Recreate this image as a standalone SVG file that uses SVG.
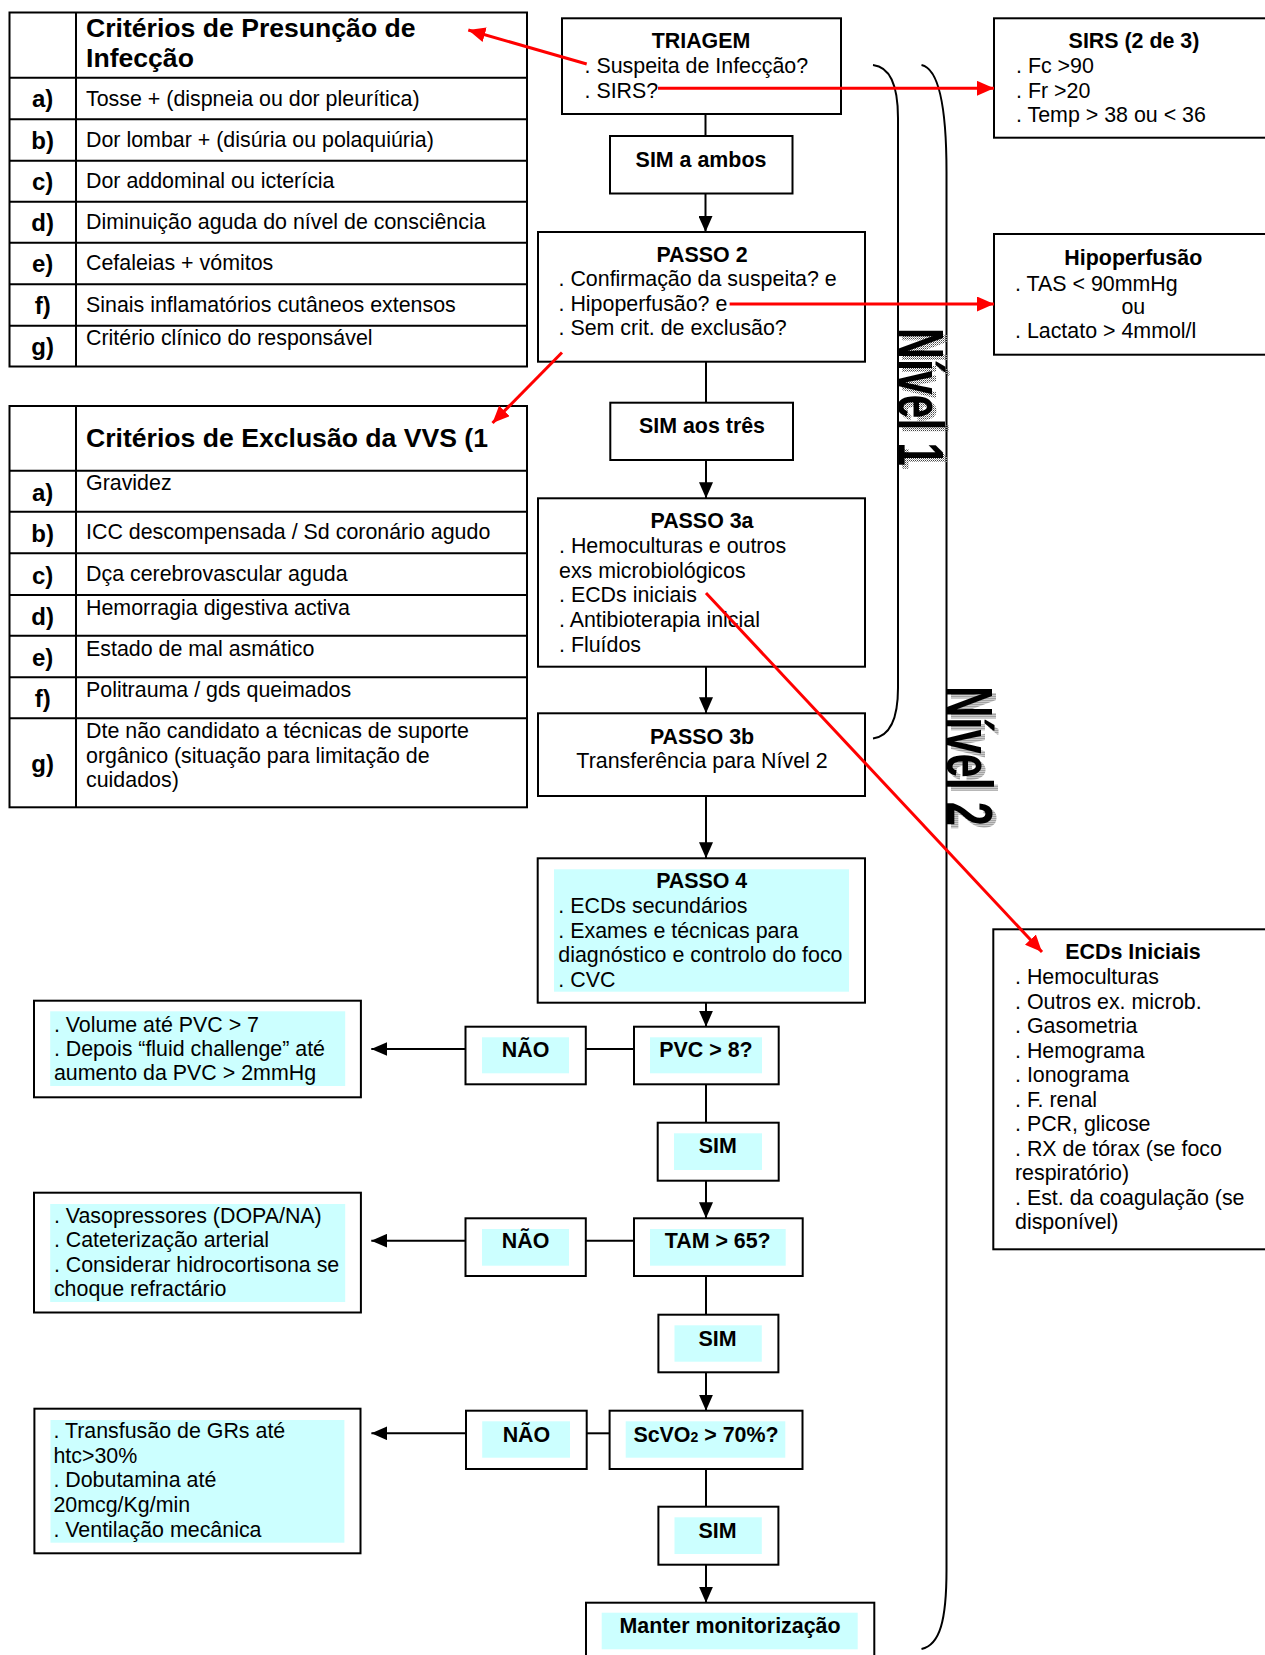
<svg xmlns="http://www.w3.org/2000/svg" width="1265" height="1655" viewBox="0 0 1265 1655">
<style>
  text { font-family: "Liberation Sans", Arial, sans-serif; font-size: 21.4px; fill: #000; }
  .b { font-weight: bold; }
  .c { text-anchor: middle; }
  .hd { font-size: 26.6px; font-weight: bold; }
  .lb { font-size: 24px; font-weight: bold; text-anchor: middle; }
  .box { fill: #fff; stroke: #000; stroke-width: 2; }
  .grid { fill: none; stroke: #000; stroke-width: 2; }
  .cy { fill: #CCFFFF; }
  .ln { fill: none; stroke: #000; stroke-width: 2; }
  .arr { fill: none; stroke: #000; stroke-width: 2; marker-end: url(#ah); }
  .red { fill: none; stroke: #FF0000; stroke-width: 3; marker-end: url(#rh); }
  .brace { fill: none; stroke: #000; stroke-width: 2; }
  .lvl { font-size: 64px; font-weight: bold; }
</style>
<defs>
  <marker id="ah" markerUnits="userSpaceOnUse" markerWidth="16" markerHeight="14" refX="16" refY="7" orient="auto">
    <path d="M0,0 L16,7 L0,14 z" fill="#000"/>
  </marker>
  <marker id="rh" markerUnits="userSpaceOnUse" markerWidth="17" markerHeight="15" refX="17" refY="7.5" orient="auto">
    <path d="M0,0 L17,7.5 L0,15 z" fill="#FF0000"/>
  </marker>
  <pattern id="halftone" width="2" height="2" patternUnits="userSpaceOnUse">
    <rect width="1" height="1" fill="#444"/>
    <rect x="1" y="1" width="1" height="1" fill="#999"/>
  </pattern>
</defs>
<rect width="1265" height="1655" fill="#fff"/>

<!-- Table: criteria for presumed infection -->
<g id="tabela-presuncao">
  <rect class="grid" x="9.5" y="12.5" width="517.5" height="354"/>
  <path class="grid" d="M76,12.5 V366.5 M9.5,77.7 H527 M9.5,119.3 H527 M9.5,160.7 H527 M9.5,201.7 H527 M9.5,242.7 H527 M9.5,284.3 H527 M9.5,325.7 H527"/>
  <text class="hd" x="86" y="36.7">Critérios de Presunção de</text>
  <text class="hd" x="86" y="66.7">Infecção</text>
  <text class="lb" x="42.7" y="107">a)</text>
  <text class="lb" x="42.7" y="148.5">b)</text>
  <text class="lb" x="42.7" y="189.5">c)</text>
  <text class="lb" x="42.7" y="230.5">d)</text>
  <text class="lb" x="42.7" y="272">e)</text>
  <text class="lb" x="42.7" y="313.5">f)</text>
  <text class="lb" x="42.7" y="355">g)</text>
  <text x="86" y="106">Tosse + (dispneia ou dor pleurítica)</text>
  <text x="86" y="146.7">Dor lombar + (disúria ou polaquiúria)</text>
  <text x="86" y="188.3">Dor addominal ou icterícia</text>
  <text x="86" y="229.3">Diminuição aguda do nível de consciência</text>
  <text x="86" y="270">Cefaleias + vómitos</text>
  <text x="86" y="311.7">Sinais inflamatórios cutâneos extensos</text>
  <text x="86" y="345">Critério clínico do responsável</text>
</g>

<!-- Table: exclusion criteria -->
<g id="tabela-exclusao">
  <rect class="grid" x="9.5" y="406" width="517.5" height="401.3"/>
  <path class="grid" d="M76,406 V807.3 M9.5,470.7 H527 M9.5,511.7 H527 M9.5,553.3 H527 M9.5,595 H527 M9.5,635.7 H527 M9.5,677.3 H527 M9.5,718.3 H527"/>
  <text class="hd" x="86" y="446.7">Critérios de Exclusão da VVS (1</text>
  <text class="lb" x="42.7" y="500.7">a)</text>
  <text class="lb" x="42.7" y="542">b)</text>
  <text class="lb" x="42.7" y="583.5">c)</text>
  <text class="lb" x="42.7" y="624.5">d)</text>
  <text class="lb" x="42.7" y="666">e)</text>
  <text class="lb" x="42.7" y="707.3">f)</text>
  <text class="lb" x="42.7" y="772.3">g)</text>
  <text x="86" y="490">Gravidez</text>
  <text x="86" y="539.3">ICC descompensada / Sd coronário agudo</text>
  <text x="86" y="580.7">Dça cerebrovascular aguda</text>
  <text x="86" y="615">Hemorragia digestiva activa</text>
  <text x="86" y="656">Estado de mal asmático</text>
  <text x="86" y="697.3">Politrauma / gds queimados</text>
  <text x="86" y="738.3">Dte não candidato a técnicas de suporte</text>
  <text x="86" y="762.7">orgânico (situação para limitação de</text>
  <text x="86" y="787.3">cuidados)</text>
</g>

<!-- Level braces and labels -->
<g id="niveis">
  <path class="brace" d="M873,65 C891,67 898,88 898,118 L898,688 C898,718 891,736 873,738.5"/>
  <path class="brace" d="M921.5,65 C940,69 946.5,110 946.5,172 L946.5,1570 C946.5,1620 940,1645 921.5,1649"/>
  <text class="lvl" transform="translate(902,332) rotate(90)" textLength="138" lengthAdjust="spacingAndGlyphs" style="fill:url(#halftone)">Nível 1</text>
  <text class="lvl" transform="translate(898,328) rotate(90)" textLength="138" lengthAdjust="spacingAndGlyphs">Nível 1</text>
  <text class="lvl" transform="translate(950.5,690) rotate(90)" textLength="140" lengthAdjust="spacingAndGlyphs" style="fill:url(#halftone)">Nível 2</text>
  <text class="lvl" transform="translate(946.5,686) rotate(90)" textLength="140" lengthAdjust="spacingAndGlyphs">Nível 2</text>
</g>

<!-- Flow nodes -->
<g id="triagem">
  <rect class="box" x="562" y="18.3" width="279" height="95.7"/>
  <text class="b c" x="701" y="48">TRIAGEM</text>
  <text x="584.5" y="73">. Suspeita de Infecção?</text>
  <text x="584.5" y="97.7">. SIRS?</text>
</g>
<g id="sim-ambos">
  <rect class="box" x="610" y="136" width="182.5" height="57.5"/>
  <text class="b c" x="701" y="166.7">SIM a ambos</text>
</g>
<g id="passo2">
  <rect class="box" x="538" y="232" width="327" height="129.7"/>
  <text class="b c" x="702" y="261.7">PASSO 2</text>
  <text x="558.5" y="286">. Confirmação da suspeita? e</text>
  <text x="558.5" y="310.7">. Hipoperfusão? e</text>
  <text x="558.5" y="335">. Sem crit. de exclusão?</text>
</g>
<g id="sim-tres">
  <rect class="box" x="610.3" y="402.7" width="182.7" height="57.3"/>
  <text class="b c" x="702" y="433.3">SIM aos três</text>
</g>
<g id="passo3a">
  <rect class="box" x="538" y="498.3" width="327" height="168.4"/>
  <text class="b c" x="702" y="528.3">PASSO 3a</text>
  <text x="559" y="553.3">. Hemoculturas e outros</text>
  <text x="559" y="577.5">exs microbiológicos</text>
  <text x="559" y="601.7">. ECDs iniciais</text>
  <text x="559" y="626.7">. Antibioterapia inicial</text>
  <text x="559" y="651.7">. Fluídos</text>
</g>
<g id="passo3b">
  <rect class="box" x="538" y="713.3" width="327" height="82.7"/>
  <text class="b c" x="702" y="744.3">PASSO 3b</text>
  <text class="c" x="702" y="768.3">Transferência para Nível 2</text>
</g>
<g id="passo4">
  <rect class="box" x="537.7" y="858.3" width="327.3" height="144.4"/>
  <rect class="cy" x="554" y="869.3" width="295" height="122.4"/>
  <text class="b c" x="701.7" y="887.7">PASSO 4</text>
  <text x="558.3" y="912.7">. ECDs secundários</text>
  <text x="558.3" y="937.7">. Exames e técnicas para</text>
  <text x="558.3" y="961.7">diagnóstico e controlo do foco</text>
  <text x="558.3" y="986.7">. CVC</text>
</g>
<g id="pvc">
  <rect class="box" x="634" y="1026.7" width="144.7" height="57.6"/>
  <rect class="cy" x="650" y="1037.3" width="112" height="36"/>
  <text class="b c" x="706" y="1056.7">PVC &gt; 8?</text>
</g>
<g id="nao-pvc">
  <rect class="box" x="465.5" y="1026.7" width="120.3" height="57.6"/>
  <rect class="cy" x="482" y="1037.3" width="87" height="36"/>
  <text class="b c" x="525.6" y="1056.7">NÃO</text>
</g>
<g id="volume">
  <rect class="box" x="34" y="1000.7" width="326.9" height="96.6"/>
  <rect class="cy" x="50.2" y="1011.3" width="295" height="74.7"/>
  <text x="53.9" y="1031.7">. Volume até PVC &gt; 7</text>
  <text x="53.9" y="1056">. Depois “fluid challenge” até</text>
  <text x="53.9" y="1080">aumento da PVC &gt; 2mmHg</text>
</g>
<g id="sim-pvc">
  <rect class="box" x="657.7" y="1122.7" width="121" height="58"/>
  <rect class="cy" x="674" y="1133.3" width="88" height="36.7"/>
  <text class="b c" x="717.7" y="1153.3">SIM</text>
</g>
<g id="tam">
  <rect class="box" x="634" y="1218.3" width="168.7" height="57.7"/>
  <rect class="cy" x="650" y="1229" width="135.7" height="36.7"/>
  <text class="b c" x="717.7" y="1248.3">TAM &gt; 65?</text>
</g>
<g id="nao-tam">
  <rect class="box" x="465.5" y="1218.3" width="120.3" height="57.7"/>
  <rect class="cy" x="482" y="1229" width="87" height="36.7"/>
  <text class="b c" x="525.6" y="1248.3">NÃO</text>
</g>
<g id="vasopressores">
  <rect class="box" x="34" y="1192.7" width="326.9" height="119.8"/>
  <rect class="cy" x="50.2" y="1204" width="295" height="98"/>
  <text x="53.9" y="1223.3">. Vasopressores (DOPA/NA)</text>
  <text x="53.9" y="1247.3">. Cateterização arterial</text>
  <text x="53.9" y="1272.3">. Considerar hidrocortisona se</text>
  <text x="53.9" y="1296">choque refractário</text>
</g>
<g id="sim-tam">
  <rect class="box" x="658.4" y="1314.7" width="120" height="57.6"/>
  <rect class="cy" x="674.5" y="1325.3" width="87.3" height="36.4"/>
  <text class="b c" x="717.6" y="1345.7">SIM</text>
</g>
<g id="scvo2">
  <rect class="box" x="609.6" y="1410.7" width="192.9" height="58.3"/>
  <rect class="cy" x="625.7" y="1421.3" width="159.6" height="36.4"/>
  <text class="b c" x="706" y="1441.7">ScVO<tspan font-size="14">2</tspan> &gt; 70%?</text>
</g>
<g id="nao-scvo2">
  <rect class="box" x="466" y="1410.7" width="120.7" height="58.3"/>
  <rect class="cy" x="482.2" y="1421.3" width="87.8" height="36.4"/>
  <text class="b c" x="526.4" y="1441.7">NÃO</text>
</g>
<g id="transfusao">
  <rect class="box" x="34.4" y="1408.7" width="326.1" height="144.6"/>
  <rect class="cy" x="50.5" y="1420" width="293.9" height="122.7"/>
  <text x="53.4" y="1438.3">. Transfusão de GRs até</text>
  <text x="53.4" y="1463.3">htc&gt;30%</text>
  <text x="53.4" y="1487.3">. Dobutamina até</text>
  <text x="53.4" y="1512.3">20mcg/Kg/min</text>
  <text x="53.4" y="1536.7">. Ventilação mecânica</text>
</g>
<g id="sim-scvo2">
  <rect class="box" x="658.4" y="1506.7" width="120" height="58"/>
  <rect class="cy" x="674.5" y="1517.3" width="87.3" height="36.7"/>
  <text class="b c" x="717.6" y="1538.3">SIM</text>
</g>
<g id="manter">
  <rect class="box" x="586" y="1602.7" width="288.3" height="70"/>
  <rect class="cy" x="601.7" y="1612.7" width="256" height="36.6"/>
  <text class="b c" x="730" y="1633.3">Manter monitorização</text>
</g>

<!-- Side information boxes -->
<g id="sirs">
  <rect class="box" x="994" y="18.3" width="290" height="119.4"/>
  <text class="b c" x="1134" y="48.3">SIRS (2 de 3)</text>
  <text x="1016" y="72.7">. Fc &gt;90</text>
  <text x="1016" y="97.7">. Fr &gt;20</text>
  <text x="1016" y="121.7">. Temp &gt; 38 ou &lt; 36</text>
</g>
<g id="hipoperfusao">
  <rect class="box" x="994" y="234" width="290" height="120.7"/>
  <text class="b c" x="1133.3" y="265">Hipoperfusão</text>
  <text x="1015" y="290.7">. TAS &lt; 90mmHg</text>
  <text class="c" x="1133.3" y="314.3">ou</text>
  <text x="1015" y="338.3">. Lactato &gt; 4mmol/l</text>
</g>
<g id="ecds-iniciais">
  <rect class="box" x="993.3" y="929.3" width="290" height="320"/>
  <text class="b c" x="1133" y="959.3">ECDs Iniciais</text>
  <text x="1015" y="984">. Hemoculturas</text>
  <text x="1015" y="1008.7">. Outros ex. microb.</text>
  <text x="1015" y="1033.3">. Gasometria</text>
  <text x="1015" y="1058">. Hemograma</text>
  <text x="1015" y="1082.3">. Ionograma</text>
  <text x="1015" y="1106.7">. F. renal</text>
  <text x="1015" y="1131.3">. PCR, glicose</text>
  <text x="1015" y="1156">. RX de tórax (se foco</text>
  <text x="1015" y="1180">respiratório)</text>
  <text x="1015" y="1205">. Est. da coagulação (se</text>
  <text x="1015" y="1229">disponível)</text>
</g>

<!-- Connectors (drawn last so the red pointers run over the boxes) -->
<g id="conectores">
  <path class="ln" d="M705.5,114 V136"/>
  <path class="arr" d="M705.5,194 V232"/>
  <path class="ln" d="M706,361.7 V402.7"/>
  <path class="arr" d="M706,460 V498.3"/>
  <path class="arr" d="M706,666.7 V713.3"/>
  <path class="arr" d="M706,796 V858.3"/>
  <path class="arr" d="M706,1002.7 V1026.7"/>
  <path class="ln" d="M706,1084.3 V1122.7"/>
  <path class="arr" d="M706,1180.7 V1218.3"/>
  <path class="ln" d="M706,1276 V1314.7"/>
  <path class="arr" d="M706,1372.3 V1410.7"/>
  <path class="ln" d="M706,1469 V1506.7"/>
  <path class="arr" d="M706,1564.7 V1602.7"/>
  <path class="ln" d="M585.8,1049 H634"/>
  <path class="arr" d="M465.5,1049 H371.3"/>
  <path class="ln" d="M585.8,1240.7 H634"/>
  <path class="arr" d="M465.5,1240.7 H371.3"/>
  <path class="ln" d="M586.7,1433.3 H609.6"/>
  <path class="arr" d="M466,1433.3 H371.4"/>
  <path class="red" d="M586.7,64 L468.3,30"/>
  <path class="red" d="M658,88.3 H994"/>
  <path class="red" d="M729.6,304 H994"/>
  <path class="red" d="M562,352.5 L492.5,423"/>
  <path class="red" d="M706,593 L1042,952"/>
</g>
</svg>
